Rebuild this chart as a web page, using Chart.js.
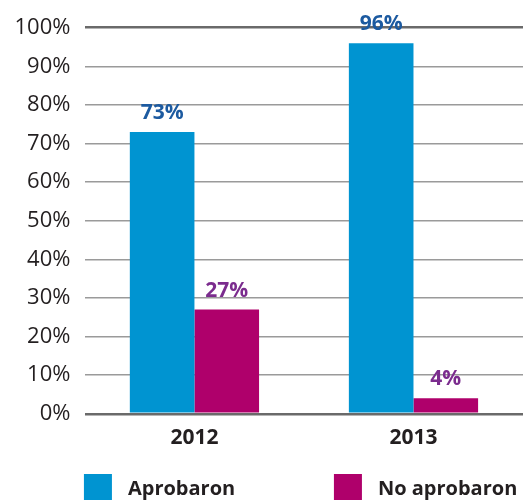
<!DOCTYPE html>
<html lang="es">
<head>
    <meta charset="UTF-8">
    <title>Aprobaron / No aprobaron</title>
    <script src="https://cdn.jsdelivr.net/npm/chart.js"></script>
    <style>
        body { margin: 0; background: #fff; }
        #wrap { width: 523px; height: 500px; }
    </style>
</head>
<body>
<div id="wrap"><canvas id="chart"></canvas></div>
<script>
    const years = ['2012', '2013'];
    const seriesNames = ['Aprobaron', 'No aprobaron'];
    const aprobaron = [73, 96];
    const noAprobaron = [27, 4];
    const yTicks = [0, 10, 20, 30, 40, 50, 60, 70, 80, 90, 100];

    const barColors = ['#0094d1', '#af006b'];
    const labelColors = ['#1c5aa0', '#7b2c8e'];
    const FONT = "'Open Sans', sans-serif";

    // etiquetas de valor sobre cada barra
    const valueLabels = {
        id: 'valueLabels',
        afterDatasetsDraw(chart) {
            const ctx = chart.ctx;
            ctx.save();
            ctx.font = 'bold 21px ' + FONT;
            ctx.textAlign = 'center';
            ctx.textBaseline = 'alphabetic';
            chart.data.datasets.forEach((ds, i) => {
                chart.getDatasetMeta(i).data.forEach((bar, j) => {
                    ctx.fillStyle = labelColors[i];
                    ctx.fillText(ds.data[j] + '%', bar.x, bar.y - 13);
                });
            });
            ctx.restore();
        }
    };

    // leyenda abajo con cuadros grandes
    const bottomLegend = {
        id: 'bottomLegend',
        afterDraw(chart) {
            const ctx = chart.ctx;
            const left = chart.chartArea.left;
            const offsets = [0, 250];
            ctx.save();
            ctx.font = 'bold 20px ' + FONT;
            ctx.textBaseline = 'middle';
            chart.data.datasets.forEach((ds, i) => {
                const x = left - 1 + offsets[i];
                ctx.fillStyle = ds.backgroundColor;
                ctx.fillRect(x, 474, 28, 28);
                ctx.fillStyle = '#231f20';
                ctx.fillText(ds.label, x + 44, 489);
            });
            ctx.restore();
        }
    };

    new Chart(document.getElementById('chart'), {
        type: 'bar',
        data: {
            labels: years,
            datasets: [
                { label: seriesNames[0], data: aprobaron, backgroundColor: barColors[0] },
                { label: seriesNames[1], data: noAprobaron, backgroundColor: barColors[1] }
            ]
        },
        options: {
            responsive: true,
            maintainAspectRatio: false,
            animation: false,
            barPercentage: 1,
            categoryPercentage: 0.59,
            layout: { padding: { top: 19.5, right: 0, bottom: 46, left: 0 } },
            plugins: {
                legend: { display: false },
                tooltip: { enabled: false }
            },
            scales: {
                x: {
                    grid: { display: false },
                    border: { display: false },
                    ticks: { color: '#231f20', font: { family: FONT, size: 21, weight: 'bold' }, padding: 3.5 }
                },
                y: {
                    min: 0,
                    max: 100,
                    afterBuildTicks: (axis) => { axis.ticks = yTicks.map(v => ({ value: v })); },
                    border: { display: false },
                    grid: {
                        drawTicks: false,
                        color: (c) => (c.tick.value === 0 || c.tick.value === 100) ? '#6a6a6a' : '#9a9a9a',
                        lineWidth: (c) => (c.tick.value === 0 || c.tick.value === 100) ? 2.5 : 1.5
                    },
                    ticks: {
                        color: '#231f20',
                        font: { family: FONT, size: 22 },
                        padding: 14.5,
                        callback: (v) => v + '%'
                    }
                }
            }
        },
        plugins: [valueLabels, bottomLegend]
    });
</script>
</body>
</html>
